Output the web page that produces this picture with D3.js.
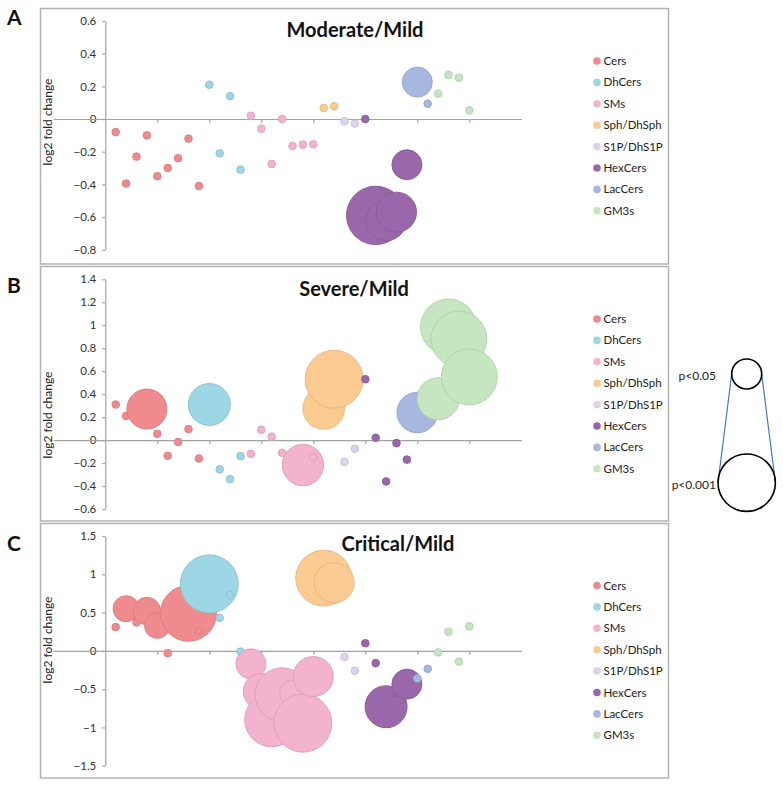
<!DOCTYPE html>
<html>
<head>
<meta charset="utf-8">
<script src="https://cdn.jsdelivr.net/npm/d3@7"></script>
<style>
  body { margin: 0; background: #fff; }
  text { font-family: Lato, "Liberation Sans", sans-serif; }
</style>
</head>
<body>
<div id="chart"></div>
<script>
// Lipid classes and their colours
var classes = ["Cers", "DhCers", "SMs", "Sph/DhSph", "S1P/DhS1P", "HexCers", "LacCers", "GM3s"];
var classColors = ["#ef8b8e", "#9dd6e5", "#f3b2ce", "#fbcb92", "#ddd3ea", "#9a67aa", "#a8b7e0", "#c6e5c1"];

// class of each lipid species, species 1..35 along the x axis
var lipidClass = [0,0,0,0,0,0,0,0,0, 1,1,1,1, 2,2,2,2,2,2,2, 3,3, 4,4, 5,5,5,5,5, 6,6, 7,7,7,7];

// log2 fold change, Moderate/Mild
var moderateFC = [-0.08, -0.395, -0.23, -0.10, -0.35, -0.30, -0.24, -0.12, -0.41,
                  0.21, -0.21, 0.14, -0.31,
                  0.02, -0.06, -0.275, 0.0, -0.165, -0.157, -0.155,
                  0.067, 0.078,
                  -0.014, -0.028,
                  0.0, -0.59, -0.62, -0.57, -0.28,
                  0.226, 0.094,
                  0.155, 0.27, 0.253, 0.053];
// bubble size (significance), Moderate/Mild
var moderateSize = [1,1,1,1,1,1,1,1,1, 1,1,1,1, 1,1,1,1,1,1,1, 1,1, 1,1,
                    1,59,28.5,27.7,15.6, 15.6,1, 1,1,1,1];

// Severe/Mild
var severeFC = [0.31, 0.21, 0.25, 0.27, 0.055, -0.136, -0.017, 0.096, -0.16,
                0.31, -0.255, -0.34, -0.14,
                -0.12, 0.09, 0.03, -0.11, -0.20, -0.217, -0.15,
                0.275, 0.53,
                -0.19, -0.075,
                0.53, 0.02, -0.36, -0.026, -0.17,
                0.24, 0.35,
                0.36, 0.985, 0.88, 0.55];
var severeSize = [1,1,1,27.7,1,1,1,1,1, 30.5,1,1,1, 1,1,1,1,1,29.7,1, 30,58, 1,1,
                  1,1,1,1,1, 28.5,1, 30.5,54,54,54];

// Critical/Mild
var criticalFC = [0.31, 0.55, 0.37, 0.52, 0.33, -0.03, 0.45, 0.49, 0.26,
                  0.875, 0.43, 0.73, -0.01,
                  -0.17, -0.53, -0.90, -0.575, -0.55, -0.945, -0.335,
                  0.95, 0.89,
                  -0.08, -0.26,
                  0.10, -0.16, -0.73, -0.55, -0.435,
                  -0.36, -0.235,
                  -0.02, 0.25, -0.14, 0.32];
var criticalSize = [1,11.7,1,13,11.3,1,1,54,1, 58,1,1,1, 15.6,22.4,50.5,50.5,11.7,58,27.7, 54,27.7, 1,1,
                    1,1,30.5,1,15.6, 1,1, 1,1,1,1];

// y tick labels of each panel
var moderateTicks = [0.6, 0.4, 0.2, 0, -0.2, -0.4, -0.6, -0.8];
var severeTicks = [1.4, 1.2, 1, 0.8, 0.6, 0.4, 0.2, 0, -0.2, -0.4, -0.6];
var criticalTicks = [1.5, 1, 0.5, 0, -0.5, -1, -1.5];
var xTicks = [5, 10, 15, 20, 25, 30, 35];

// significance legend
var sigLabels = ["p<0.05", "p<0.001"];
var sigSizes = [15.6, 57];

var panels = [
  {letter: "A", title: "Moderate/Mild", fc: moderateFC, size: moderateSize, ticks: moderateTicks,
   box: [8.5, 264], yRange: [249.7, 21], titleX: 355, titleY: 37, letterY: 25, legendY: 61, labelY: 122},
  {letter: "B", title: "Severe/Mild", fc: severeFC, size: severeSize, ticks: severeTicks,
   box: [266.5, 521], yRange: [509, 279.3], titleX: 354, titleY: 296, letterY: 293, legendY: 319, labelY: 415},
  {letter: "C", title: "Critical/Mild", fc: criticalFC, size: criticalSize, ticks: criticalTicks,
   box: [523.5, 778], yRange: [765.7, 536], titleX: 398, titleY: 551, letterY: 551, legendY: 585.5, labelY: 640}
];

var svg = d3.select("#chart").append("svg")
    .attr("width", 783)
    .attr("height", 788);

var x = d3.scaleLinear().domain([-5, 40]).range([53.3, 521.3]);
var r = d3.scaleSqrt().domain([0, 100]).range([0, 38]);
var axisColor = "#a3a3a3";

panels.forEach(function(p) {
    var g = svg.append("g");
    var y = d3.scaleLinear()
        .domain([p.ticks[p.ticks.length - 1], p.ticks[0]])
        .range(p.yRange);

    // frame
    g.append("rect")
        .attr("x", 40.5).attr("y", p.box[0])
        .attr("width", 628).attr("height", p.box[1] - p.box[0])
        .attr("fill", "none")
        .attr("stroke", "#b3b3b3")
        .attr("stroke-width", 1.5);

    g.append("text")
        .attr("x", 7).attr("y", p.letterY)
        .attr("font-size", 21).attr("font-weight", "bold")
        .attr("fill", "#111")
        .text(p.letter);

    // y axis
    var yAxis = g.append("g")
        .attr("transform", "translate(" + x(0) + ",0)")
        .call(d3.axisLeft(y).tickValues(p.ticks).tickSize(3).tickSizeOuter(0).tickPadding(6)
            .tickFormat(d3.format("")));
    yAxis.selectAll("path, line").attr("stroke", axisColor).attr("stroke-width", 1.2);
    yAxis.selectAll("text").attr("font-size", 11.5).attr("fill", "#333")
        .style("font-family", "Lato, sans-serif");

    // x axis at zero
    var xAxis = g.append("g")
        .attr("transform", "translate(0," + y(0) + ")")
        .call(d3.axisBottom(x).tickValues(xTicks).tickSize(4).tickSizeOuter(0).tickFormat(""));
    xAxis.selectAll("path, line").attr("stroke", axisColor).attr("stroke-width", 1.2);

    g.append("text")
        .attr("transform", "translate(" + 48 + "," + p.labelY + ") rotate(-90)")
        .attr("text-anchor", "middle")
        .attr("dy", "0.35em")
        .attr("font-size", 12)
        .attr("fill", "#222")
        .text("log2 fold change");

    g.append("text")
        .attr("x", p.titleX).attr("y", p.titleY)
        .attr("text-anchor", "middle")
        .attr("font-size", 20).attr("font-weight", "bold")
        .attr("fill", "#111")
        .text(p.title);

    // bubbles, in data order
    g.append("g").selectAll("circle")
        .data(p.fc.map(function(v, i) { return {i: i + 1, v: v, s: p.size[i], c: lipidClass[i]}; }))
      .enter().append("circle")
        .attr("cx", d => x(d.i))
        .attr("cy", d => y(d.v))
        .attr("r", d => r(d.s))
        .attr("fill", d => classColors[d.c])
        .attr("stroke", d => d3.color(classColors[d.c]).darker(0.25))
        .attr("stroke-width", 1);

    // legend
    var leg = g.append("g").selectAll("g")
        .data(classes)
      .enter().append("g")
        .attr("transform", (d, i) => "translate(597," + (p.legendY + i * 21.4) + ")");
    leg.append("circle")
        .attr("r", 3.8)
        .attr("fill", (d, i) => classColors[i]);
    leg.append("text")
        .attr("x", 6.5)
        .attr("dy", "0.35em")
        .attr("font-size", 11.5)
        .attr("fill", "#222")
        .text(d => d);
});

// significance key
var sig = svg.append("g");
var sigY = [374, 482.7];
var sigR = sigSizes.map(d => r(d));
var cx = 746.7;
sig.append("line")
    .attr("x1", cx - sigR[0]).attr("y1", sigY[0])
    .attr("x2", cx - sigR[1]).attr("y2", sigY[1])
    .attr("stroke", "#4a74c4").attr("stroke-width", 1.2);
sig.append("line")
    .attr("x1", cx + sigR[0]).attr("y1", sigY[0])
    .attr("x2", cx + sigR[1]).attr("y2", sigY[1])
    .attr("stroke", "#4a74c4").attr("stroke-width", 1.2);
sig.selectAll("circle")
    .data(sigSizes)
  .enter().append("circle")
    .attr("cx", cx)
    .attr("cy", (d, i) => sigY[i])
    .attr("r", d => r(d))
    .attr("fill", "none")
    .attr("stroke", "#000")
    .attr("stroke-width", 1.6);
sig.selectAll("text")
    .data(sigLabels)
  .enter().append("text")
    .attr("x", 716)
    .attr("y", (d, i) => sigY[i] + 2)
    .attr("dy", "0.35em")
    .attr("text-anchor", "end")
    .attr("font-size", 12)
    .attr("fill", "#222")
    .text(d => d);
</script>
</body>
</html>
